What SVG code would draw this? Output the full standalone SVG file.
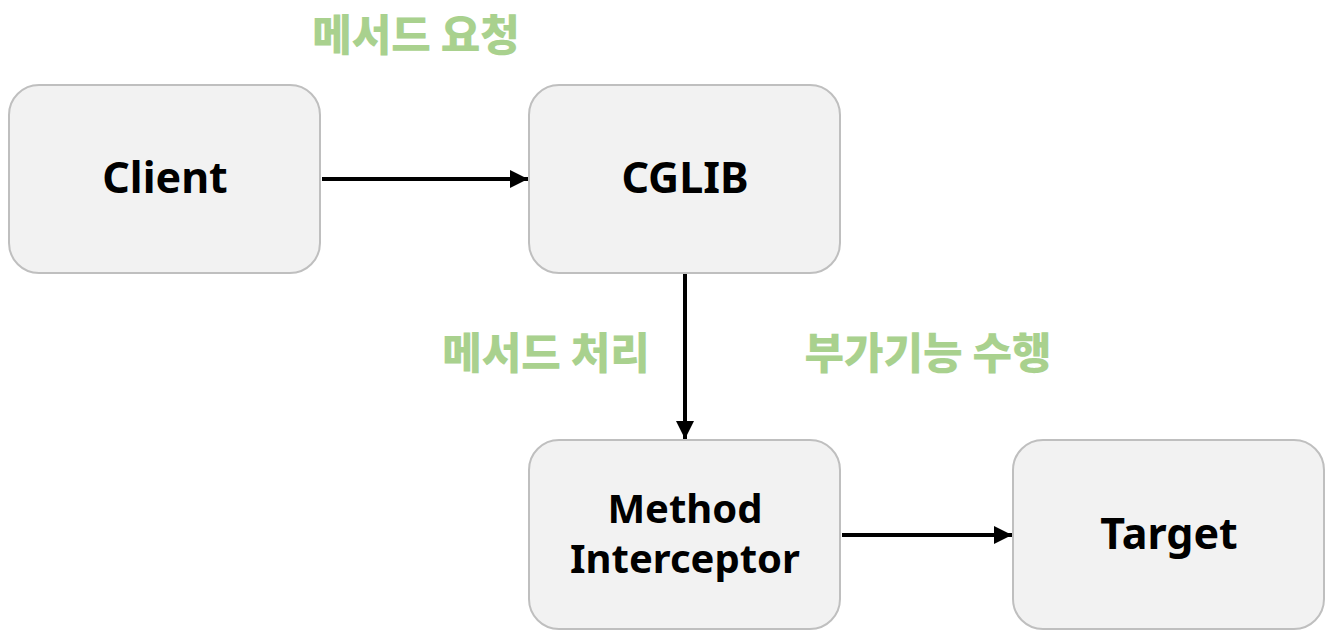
<svg xmlns="http://www.w3.org/2000/svg" width="1337" height="643" viewBox="0 0 1337 643">
<style>
.box{fill:#f2f2f2;stroke:#bfbfbf;stroke-width:2}
.t{font-family:"Noto Sans","Noto Sans CJK KR",sans-serif;font-weight:bold;font-size:43px;fill:#000;text-anchor:middle}
.g{font-family:"Noto Sans CJK KR",sans-serif;font-weight:900;font-size:43px;fill:#a9d18e;text-anchor:middle}
.c{stroke:#000;stroke-width:4;fill:none;marker-end:url(#ah)}
</style>
<defs>
<marker id="ah" viewBox="0 0 10 10" refX="10" refY="5" markerWidth="4.5" markerHeight="4.5" orient="auto" markerUnits="strokeWidth">
<path d="M0,0 L10,5 L0,10 Z" fill="#000"/>
</marker>
</defs>
<rect width="1337" height="643" fill="#fff"/>
<g id="client"><rect class="box" x="9" y="85" width="311" height="188" rx="30"/><text class="t" x="165" y="193">Client</text></g>
<g id="cglib"><rect class="box" x="529" y="85" width="311" height="188" rx="30"/><text class="t" x="685" y="193">CGLIB</text></g>
<g id="interceptor"><rect class="box" x="529" y="440" width="311" height="189" rx="30"/><text class="t" x="685" y="523" style="font-size:40px">Method</text><text class="t" x="685" y="573" style="font-size:40px">Interceptor</text></g>
<g id="target"><rect class="box" x="1013" y="440" width="311" height="189" rx="30"/><text class="t" x="1169" y="549">Target</text></g>
<g id="connectors">
<line class="c" x1="322" y1="179" x2="528" y2="179"/>
<line class="c" x1="685" y1="274" x2="685" y2="439"/>
<line class="c" x1="842" y1="535" x2="1012" y2="535"/>
</g>
<g id="labels">
<text class="g" x="416" y="51">메서드 요청</text>
<text class="g" x="546" y="369">메서드 처리</text>
<text class="g" x="928" y="369">부가기능 수행</text>
</g>
</svg>
